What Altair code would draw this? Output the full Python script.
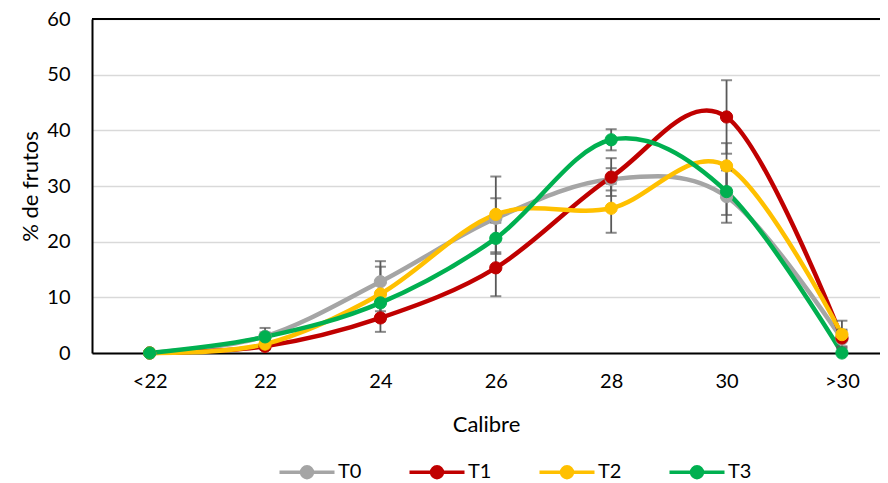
import json
import altair as alt
import pandas as pd

categories = ["<22", "22", "24", "26", "28", "30", ">30"]
series = ["T0", "T1", "T2", "T3"]
colors = ["#A5A5A5", "#C00000", "#FFC000", "#00B050"]

t0 = [0.0, 3.0, 12.8, 24.2, 31.2, 28.1, 2.5]
t1 = [0.0, 1.2, 6.3, 15.3, 31.6, 42.4, 2.7]
t2 = [0.0, 1.6, 10.6, 24.9, 26.0, 33.6, 3.3]
t3 = [0.0, 2.9, 9.0, 20.6, 38.3, 29.0, 0.0]

e0 = [0.0, 1.5, 3.7, 3.6, 2.0, 4.7, 1.5]
e1 = [0.0, 0.6, 2.5, 5.1, 3.4, 6.6, 1.5]
e2 = [0.0, 0.8, 4.9, 6.8, 4.4, 4.1, 2.5]
e3 = [0.0, 0.8, 1.5, 2.8, 1.9, 4.2, 0.0]

rows = []
for name, vals, errs in zip(series, [t0, t1, t2, t3], [e0, e1, e2, e3]):
    for i, (v, e) in enumerate(zip(vals, errs)):
        rows.append({"serie": name, "idx": i, "cat": categories[i], "v": v,
                     "e": e, "lo": v - e, "hi": v + e})
df = pd.DataFrame(rows)

FONT = "Lato"
label_expr = json.dumps(categories) + "[datum.value]"

x_enc = alt.X(
    "idx:Q",
    scale=alt.Scale(domain=[-0.5, 6.33], nice=False, zero=False),
    axis=alt.Axis(
        values=list(range(len(categories))), labelExpr=label_expr,
        title="Calibre", grid=False, ticks=False, domainColor="black",
        domainWidth=2, labelPadding=18, labelFontSize=20, labelColor="black",
        labelFont=FONT, labelFlush=False, labelOverlap=False,
        titleFont=FONT, titleFontSize=22, titleFontWeight="normal",
        titleColor="black", titleY=78, titleBaseline="alphabetic",
    ),
)
y_scale = alt.Scale(domain=[0, 60], nice=False)
y_axis = alt.Axis(
    values=[0, 10, 20, 30, 40, 50, 60], title="% de frutos", grid=True,
    gridColor="#D9D9D9", gridWidth=1.5, ticks=False, domainColor="black",
    domainWidth=2, labelPadding=22, labelFontSize=20, labelColor="black",
    labelFont=FONT, titleFont=FONT, titleFontSize=22, titleFontWeight="normal",
    titleColor="black", titleX=-55, titleBaseline="alphabetic",
)

SYMBOL = ("M-3.93,0 L3.93,0 M0.78,0 A0.78,0.78 0 1,1 -0.78,0 "
          "A0.78,0.78 0 1,1 0.78,0 Z")
legend = alt.Legend(
    title=None, orient="none", direction="horizontal", columns=4,
    legendX=205, legendY=443, symbolType=SYMBOL, symbolSize=196,
    symbolStrokeWidth=3.5, labelFont=FONT, labelFontSize=20,
    labelColor="black", labelOffset=21, columnPadding=40,
)
stroke_enc = alt.Stroke("serie:N", scale=alt.Scale(domain=series, range=colors),
                        legend=legend)
fill_enc = alt.Fill("serie:N", scale=alt.Scale(domain=series, range=colors),
                    legend=legend)

base = alt.Chart(df)

lines = base.mark_line(interpolate="cardinal", strokeWidth=4.5).encode(
    x=x_enc,
    y=alt.Y("v:Q", scale=y_scale, axis=y_axis),
    stroke=stroke_enc,
    detail="serie:N",
    order="idx:Q",
)

errdf = base.transform_filter("datum.e > 0")
err_rules = errdf.mark_rule(color="#595959", strokeWidth=1.8).encode(
    x="idx:Q", y="lo:Q", y2="hi:Q"
)
err_top = errdf.mark_tick(color="#595959", orient="horizontal", size=11,
                          thickness=2).encode(x="idx:Q", y="hi:Q")
err_bot = errdf.mark_tick(color="#595959", orient="horizontal", size=11,
                          thickness=2).encode(x="idx:Q", y="lo:Q")

points = base.mark_point(filled=True, shape="circle", size=150, opacity=1,
                         strokeWidth=1).encode(
    x="idx:Q", y="v:Q", fill=fill_enc, stroke=stroke_enc,
)

top_line = alt.Chart(pd.DataFrame({"top": [60]})).mark_rule(
    color="black", strokeWidth=2).encode(y="top:Q")

chart = alt.layer(lines, err_rules, err_top, err_bot, points, top_line).properties(
    width=788, height=334,
    autosize=alt.AutoSizeParams(type="none"),
    padding={"left": 84, "top": 11, "right": 0, "bottom": 130},
).configure_view(stroke=None).configure(background="white")

chart.save("out.html", embed_options={"renderer": "svg", "actions": False})
